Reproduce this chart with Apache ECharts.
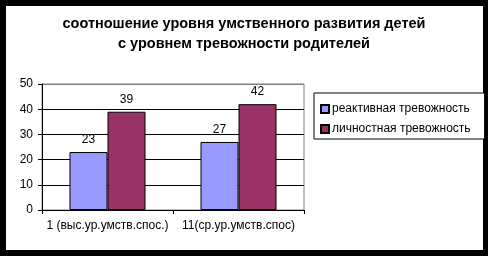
<!DOCTYPE html>
<html>
<head>
<meta charset="utf-8">
<script src="https://cdn.jsdelivr.net/npm/echarts@6/dist/echarts.min.js"></script>
<style>
html,body{margin:0;padding:0;background:#000;width:488px;height:256px;overflow:hidden;}
#frame{position:absolute;left:6px;top:6px;width:477px;height:244px;background:#fff;}
#chart{position:absolute;left:0;top:0;width:488px;height:256px;}
</style>
</head>
<body>
<div id="frame"></div>
<div id="chart"></div>
<script>
const titleText = 'соотношение уровня умственного развития детей\nс уровнем тревожности родителей';
const categories = ['1 (выс.ур.умств.спос.)', '11(ср.ур.умств.спос)'];
const seriesNames = ['реактивная тревожность', 'личностная тревожность'];
const reactiveValues = [23, 27];
const personalValues = [39, 42];
const yTicks = [0, 10, 20, 30, 40, 50];

const font = '"Liberation Sans", Arial, sans-serif';
const chart = echarts.init(document.getElementById('chart'), null, {renderer: 'canvas'});
const labelCfg = {show: true, position: 'top', distance: 6, color: '#000', fontSize: 12, fontFamily: font};
chart.setOption({
  animation: false,
  backgroundColor: 'transparent',
  title: {
    text: titleText, left: 'center', top: 14, padding: 0,
    textStyle: {fontSize: 14.5, fontWeight: 'bold', fontFamily: font, color: '#000', lineHeight: 20}
  },
  legend: {
    data: seriesNames, orient: 'vertical', left: 314, top: 93,
    padding: [10, 14, 4, 6], itemGap: 8, itemWidth: 8, itemHeight: 8, icon: 'rect',
    borderColor: '#000', borderWidth: 1, backgroundColor: '#fff',
    textStyle: {fontSize: 12, fontFamily: font, color: '#000', padding: [0, 0, 0, -2]}
  },
  grid: {left: 42, right: 184, top: 84, bottom: 46, show: true, borderColor: '#808080', borderWidth: 1, containLabel: false},
  xAxis: {
    type: 'category', data: categories,
    axisLine: {lineStyle: {color: '#000', width: 1}},
    axisTick: {show: true, length: 4, lineStyle: {color: '#000'}},
    axisLabel: {fontSize: 12, fontFamily: font, color: '#000', margin: 10, interval: 0, hideOverlap: false}
  },
  yAxis: {
    type: 'value', min: yTicks[0], max: yTicks[yTicks.length - 1], interval: 10,
    axisLine: {show: true, lineStyle: {color: '#000', width: 1}},
    axisTick: {show: true, length: 4, lineStyle: {color: '#000'}},
    axisLabel: {fontSize: 12, fontFamily: font, color: '#000', margin: 9},
    splitLine: {show: true, lineStyle: {color: ['#000', '#000', '#000', '#000', '#000', '#808080'], width: 1}}
  },
  series: [
    {name: seriesNames[0], type: 'bar', data: reactiveValues, barWidth: 38, barGap: '0%',
     itemStyle: {color: '#9999FF', borderColor: '#000', borderWidth: 1}, label: labelCfg},
    {name: seriesNames[1], type: 'bar', data: personalValues, barWidth: 38, barGap: '0%',
     itemStyle: {color: '#993366', borderColor: '#000', borderWidth: 1}, label: labelCfg}
  ]
});
</script>
</body>
</html>
